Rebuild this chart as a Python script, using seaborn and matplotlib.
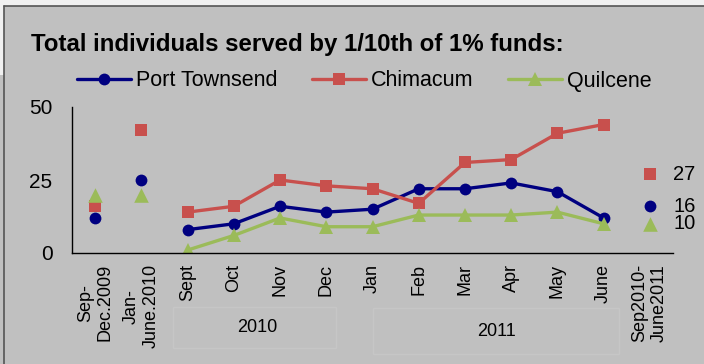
import numpy as np
import pandas as pd
import matplotlib
matplotlib.use("Agg")
import matplotlib.pyplot as plt
import seaborn as sns
from matplotlib.lines import Line2D
from matplotlib.patches import Rectangle

# ---- data -------------------------------------------------------------
categories = ["Sep-\nDec.2009", "Jan-\nJune.2010", "Sept", "Oct", "Nov", "Dec",
              "Jan", "Feb", "Mar", "Apr", "May", "June", "Sep2010-\nJune2011"]
port_townsend = [12, 25, 8, 10, 16, 14, 15, 22, 22, 24, 21, 12, 16]
chimacum = [16, 42, 14, 16, 25, 23, 22, 17, 31, 32, 41, 44, 27]
quilcene = [20, 20, 1, 6, 12, 9, 9, 13, 13, 13, 14, 10, 10]
series_names = ["Port Townsend", "Chimacum", "Quilcene"]
year_groups = ["2010", "2011"]
title = "Total individuals served by 1/10th of 1% funds:"

monthly_idx = list(range(2, 12))      # Sept .. June are joined by lines
period_idx = [0, 1, 12]               # multi-month totals drawn as lone markers
labelled_idx = 12                     # the overall total gets a value label

rows = []
for name, vals in zip(series_names, [port_townsend, chimacum, quilcene]):
    for i, v in enumerate(vals):
        rows.append({"series": name, "pos": i, "value": v,
                     "monthly": i in monthly_idx})
df = pd.DataFrame(rows)

colors = {"Port Townsend": "#000080", "Chimacum": "#C8504D", "Quilcene": "#9BBB59"}
markers = {"Port Townsend": "o", "Chimacum": "s", "Quilcene": "^"}
msizes = {"Port Townsend": 8.5, "Chimacum": 8.2, "Quilcene": 10.5}

# ---- figure -----------------------------------------------------------
sns.set_style("white")
plt.rcParams["font.family"] = ["Liberation Sans", "DejaVu Sans"]
plt.rcParams["text.color"] = "black"
plt.rcParams["xtick.color"] = "black"
plt.rcParams["ytick.color"] = "black"
plt.rcParams["xtick.labelcolor"] = "black"
plt.rcParams["ytick.labelcolor"] = "black"

W, H = 704, 364
fig = plt.figure(figsize=(W / 100, H / 100), dpi=100, facecolor="#C0C0C0")
ax = fig.add_axes([72 / W, 111 / H, 601 / W, 146 / H])
ax.set_facecolor("#C0C0C0")

for name in series_names:
    sub = df[df.series == name]
    sns.lineplot(data=sub[sub.monthly], x="pos", y="value", color=colors[name],
                 marker=markers[name], markersize=msizes[name], markeredgewidth=0,
                 linewidth=2.4, legend=False, ax=ax)
    lone = sub[sub.pos.isin(period_idx)]
    sns.scatterplot(data=lone, x="pos", y="value", color=colors[name],
                    marker=markers[name], s=msizes[name] ** 2, linewidth=0,
                    legend=False, ax=ax, clip_on=False, zorder=3)
    total = sub[sub.pos == labelled_idx].value.iloc[0]
    ax.text(labelled_idx + 0.5, total, f"{total}", ha="left", va="center",
            fontsize=14.5, color="black", clip_on=False)

ax.set_xlim(-0.5, 12.5)
ax.set_ylim(0, 50)
ax.set_xlabel("")
ax.set_ylabel("")
ax.set_xticks(range(len(categories)))
ax.set_xticklabels(categories, rotation=90, ha="center", va="top",
                   multialignment="center", fontsize=13, color="black")
ax.set_xticks(np.arange(-0.5, len(categories), 1), minor=True)
ax.tick_params(axis="x", which="major", length=0, pad=8)
ax.tick_params(axis="x", which="minor", length=5, width=1, color="black",
               direction="out")
ax.set_yticks([0, 25, 50])
ax.tick_params(axis="y", length=5, width=1, color="black", direction="out",
               labelsize=15, labelcolor="black", pad=9)
for s in ["top", "right"]:
    ax.spines[s].set_visible(False)
for s in ["left", "bottom"]:
    ax.spines[s].set_color("black")
    ax.spines[s].set_linewidth(1)

# ---- year group boxes under the month labels --------------------------
def fig_box(x0, y0, x1, y1):
    return Rectangle((x0 / W, 1 - y1 / H), (x1 - x0) / W, (y1 - y0) / H,
                     transform=fig.transFigure, facecolor="none",
                     edgecolor="#C6C6C6", linewidth=1)

fig.patches.append(fig_box(173, 307, 336, 348))
fig.patches.append(fig_box(373, 308, 619, 354))
fig.text(257 / W, 1 - 328 / H, year_groups[0], ha="center", va="center", fontsize=13)
fig.text(496 / W, 1 - 331 / H, year_groups[1], ha="center", va="center", fontsize=13)

# ---- title and legend -------------------------------------------------
fig.text(31 / W, 1 - 51 / H, title, ha="left", va="baseline",
         fontsize=17.3, fontweight="bold")

handles = [Line2D([], [], color=colors[n], marker=markers[n], markersize=msizes[n],
                  markeredgewidth=0, linewidth=2.4) for n in series_names]
fig.legend(handles, series_names, loc="center left",
           bbox_to_anchor=(77 / W, 1 - 81 / H), ncol=3, frameon=False,
           fontsize=15.5, handlelength=2.5, handletextpad=0.25,
           columnspacing=1.6, borderpad=0, borderaxespad=0, numpoints=1,
           labelcolor="black")

# ---- window frame -----------------------------------------------------
fig.patches.append(Rectangle((0, 1 - 6 / H), 1, 6 / H, transform=fig.transFigure,
                             facecolor="#F0F0F0", edgecolor="none"))
fig.patches.append(Rectangle((0, 1 - 75 / H), 4 / W, 75 / H, transform=fig.transFigure,
                             facecolor="#F0F0F0", edgecolor="none"))
fig.lines.append(Line2D([4 / W, 1], [1 - 6 / H, 1 - 6 / H], transform=fig.transFigure,
                        color="#555555", linewidth=1.2))
fig.lines.append(Line2D([4 / W, 4 / W], [0, 1 - 6 / H], transform=fig.transFigure,
                        color="#555555", linewidth=1.2))

fig.savefig("out.png", dpi=100, facecolor=fig.get_facecolor())
